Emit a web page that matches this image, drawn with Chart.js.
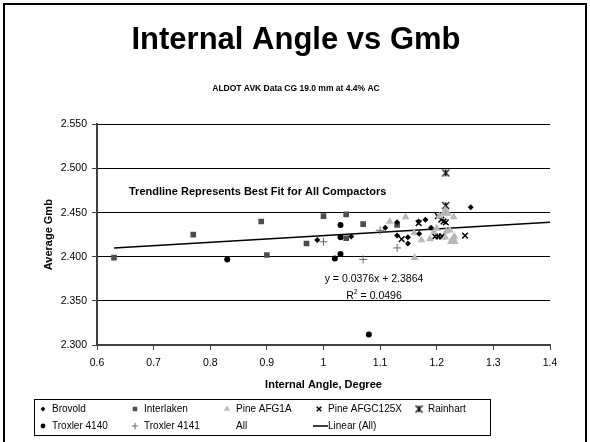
<!DOCTYPE html>
<html>
<head>
<meta charset="utf-8">
<script src="https://cdn.jsdelivr.net/npm/chart.js@4.4.0/dist/chart.umd.min.js"></script>
<style>
  html, body { margin: 0; padding: 0; background: #fff; }
  #wrap { width: 590px; height: 442px; }
</style>
</head>
<body>
<div id="wrap"><canvas id="chart" width="590" height="442"></canvas></div>
<script>
const xTickLabels = ['0.6', '0.7', '0.8', '0.9', '1', '1.1', '1.2', '1.3', '1.4'];
const yTickLabels = ['2.300', '2.350', '2.400', '2.450', '2.500', '2.550'];

const brovoldX = [0.989, 1.049, 1.109, 1.13, 1.13, 1.149, 1.149, 1.168, 1.169, 1.18, 1.19, 1.26];
const brovoldY = [2.419, 2.423, 2.433, 2.439, 2.424, 2.422, 2.415, 2.440, 2.426, 2.442, 2.433, 2.456];

const interlakenX = [0.63, 0.77, 0.89, 0.90, 0.97, 1.00, 1.04, 1.04, 1.07, 1.13];
const interlakenY = [2.399, 2.425, 2.440, 2.402, 2.415, 2.446, 2.448, 2.421, 2.437, 2.436];

const pineAFG1AX = [1.117, 1.145, 1.160, 1.161, 1.173, 1.188, 1.195, 1.200, 1.205, 1.212, 1.215, 1.215, 1.217, 1.220, 1.223, 1.225, 1.229, 1.230, 1.231, 1.232];
const pineAFG1AY = [2.440, 2.445, 2.427, 2.399, 2.419, 2.420, 2.428, 2.432, 2.446, 2.449, 2.453, 2.422, 2.429, 2.449, 2.430, 2.417, 2.421, 2.445, 2.423, 2.417];

const pineAFGC125XX = [1.138, 1.168, 1.197, 1.202, 1.203, 1.208, 1.209, 1.212, 1.216, 1.250];
const pineAFGC125XY = [2.420, 2.438, 2.423, 2.446, 2.423, 2.442, 2.423, 2.440, 2.439, 2.424];

const rainhartX = [1.216, 1.216];
const rainhartY = [2.495, 2.458];

const troxler4140X = [0.83, 1.02, 1.03, 1.03, 1.03, 1.08];
const troxler4140Y = [2.397, 2.398, 2.403, 2.422, 2.436, 2.312];

const troxler4141X = [1.00, 1.07, 1.10, 1.13];
const troxler4141Y = [2.417, 2.397, 2.430, 2.410];

const trendX = [0.63, 1.4];
const trendY = [2.410, 2.439];

const FONT = "'Liberation Sans', Arial, sans-serif";
Chart.defaults.font.family = FONT;
Chart.defaults.color = '#000';

function pts(xs, ys) {
  return xs.map((x, i) => ({ x: x, y: ys[i] }));
}

function scatter(label, xs, ys, style) {
  return Object.assign({
    type: 'scatter',
    label: label,
    data: pts(xs, ys),
    showLine: false,
  }, style);
}

// Excel style star marker: an x with a vertical bar
function starMarker(size) {
  const c = document.createElement('canvas');
  c.width = size;
  c.height = size;
  const g = c.getContext('2d');
  g.strokeStyle = '#000';
  g.lineWidth = 1.2;
  g.beginPath();
  g.moveTo(1, 1); g.lineTo(size - 1, size - 1);
  g.moveTo(size - 1, 1); g.lineTo(1, size - 1);
  g.moveTo(size / 2, 1); g.lineTo(size / 2, size - 1);
  g.stroke();
  return c;
}

const datasets = [
  scatter('Brovold', brovoldX, brovoldY, { pointStyle: 'rectRot', pointRadius: 3, backgroundColor: '#000', borderColor: '#000', borderWidth: 0 }),
  scatter('Interlaken', interlakenX, interlakenY, { pointStyle: 'rect', pointRadius: 4, backgroundColor: '#4d4d4d', borderColor: '#4d4d4d', borderWidth: 0 }),
  scatter('Pine AFG1A', pineAFG1AX, pineAFG1AY, { pointStyle: 'triangle', pointRadius: 4.5, backgroundColor: '#b8b8b8', borderColor: '#b8b8b8', borderWidth: 0 }),
  scatter('Pine AFGC125X', pineAFGC125XX, pineAFGC125XY, { pointStyle: 'crossRot', pointRadius: 4, backgroundColor: '#000', borderColor: '#000', borderWidth: 1.5 }),
  scatter('Rainhart', rainhartX, rainhartY, { pointStyle: starMarker(9), pointRadius: 4, backgroundColor: '#000', borderColor: '#000', borderWidth: 1 }),
  scatter('Troxler 4140', troxler4140X, troxler4140Y, { pointStyle: 'circle', pointRadius: 3, backgroundColor: '#000', borderColor: '#000', borderWidth: 0 }),
  scatter('Troxler 4141', troxler4141X, troxler4141Y, { pointStyle: 'cross', pointRadius: 4, backgroundColor: '#666', borderColor: '#666', borderWidth: 1 }),
  scatter('All', [], [], { pointRadius: 0 }),
  {
    type: 'line',
    label: 'Linear (All)',
    data: pts(trendX, trendY),
    borderColor: '#000',
    borderWidth: 1.5,
    pointRadius: 0,
    fill: false,
  },
];

// legend slots: [dataset index, marker x, text x, row]
const legendSlots = [
  [0, 43, 52, 0], [1, 135, 144, 0], [2, 227, 236, 0], [3, 319, 328, 0], [4, 419, 428, 0],
  [5, 43, 52, 1], [6, 135, 144, 1], [7, null, 236, 1], [8, 'line', 328, 1],
];

const decorations = {
  id: 'decorations',
  afterDraw(chart) {
    const ctx = chart.ctx;
    ctx.save();

    // outer frame
    ctx.strokeStyle = '#000';
    ctx.lineWidth = 2;
    ctx.strokeRect(4, 4, 582, 460);

    // notes on the plot
    ctx.fillStyle = '#000';
    ctx.textBaseline = 'middle';
    ctx.textAlign = 'left';
    ctx.font = 'bold 11px ' + FONT;
    ctx.fillText('Trendline Represents Best Fit for All Compactors', 129, 192);

    ctx.font = '10.5px ' + FONT;
    ctx.textAlign = 'center';
    ctx.fillText('y = 0.0376x + 2.3864', 374, 279);
    const a = 'R', b = ' = 0.0496';
    const wa = ctx.measureText(a).width;
    ctx.font = '7px ' + FONT;
    const ws = ctx.measureText('2').width;
    ctx.font = '10.5px ' + FONT;
    const wb = ctx.measureText(b).width;
    const sx = 374 - (wa + ws + wb) / 2;
    ctx.textAlign = 'left';
    ctx.fillText(a, sx, 296);
    ctx.font = '7px ' + FONT;
    ctx.fillText('2', sx + wa, 292);
    ctx.font = '10.5px ' + FONT;
    ctx.fillText(b, sx + wa + ws, 296);

    // legend box
    ctx.lineWidth = 1;
    ctx.strokeStyle = '#000';
    ctx.strokeRect(34.5, 399.5, 456, 36);
    ctx.font = '10px ' + FONT;
    const rows = [409, 426];
    legendSlots.forEach(([di, mx, tx, row]) => {
      const ds = chart.data.datasets[di];
      const y = rows[row];
      if (mx === 'line') {
        ctx.strokeStyle = '#000';
        ctx.lineWidth = 1.5;
        ctx.beginPath();
        ctx.moveTo(313, y);
        ctx.lineTo(328, y);
        ctx.stroke();
      } else if (mx !== null) {
        ctx.fillStyle = ds.backgroundColor;
        ctx.strokeStyle = ds.borderColor;
        ctx.lineWidth = ds.borderWidth;
        Chart.helpers.drawPoint(ctx, {
          pointStyle: ds.pointStyle,
          radius: ds.pointRadius * 0.8,
          rotation: 0,
          borderWidth: ds.borderWidth,
        }, mx, y);
      }
      ctx.fillStyle = '#000';
      ctx.textAlign = 'left';
      ctx.textBaseline = 'middle';
      ctx.fillText(ds.label, tx, y);
    });

    ctx.restore();
  },
};

new Chart(document.getElementById('chart'), {
  type: 'scatter',
  data: { datasets: datasets },
  options: {
    responsive: false,
    animation: false,
    layout: { padding: { left: 42, right: 40, top: 0, bottom: 50 } },
    plugins: {
      legend: { display: false },
      tooltip: { enabled: false },
      title: {
        display: true,
        text: 'Internal Angle vs Gmb',
        font: { size: 31, weight: 'bold', family: FONT },
        color: '#000',
        padding: { top: 22, bottom: 24 },
      },
      subtitle: {
        display: true,
        text: 'ALDOT AVK Data CG 19.0 mm at 4.4% AC',
        font: { size: 8.5, weight: 'bold', family: FONT },
        color: '#000',
        padding: { top: 0, bottom: 31 },
      },
    },
    scales: {
      x: {
        type: 'linear',
        min: 0.6,
        max: 1.4,
        afterFit(scale) { scale.height = 47; },
        afterBuildTicks(scale) {
          scale.ticks = xTickLabels.map((t) => ({ value: parseFloat(t) }));
        },
        ticks: {
          callback: (v, i) => xTickLabels[i],
          font: { size: 10.5 },
          color: '#000',
          padding: 7,
          maxRotation: 0,
        },
        grid: { drawOnChartArea: false, drawTicks: true, tickLength: 5, tickColor: '#404040', lineWidth: 1 },
        border: { display: true, color: '#404040', width: 2 },
        title: {
          display: true,
          text: 'Internal Angle, Degree',
          font: { size: 11, weight: 'bold' },
          color: '#000',
          padding: { top: 0, bottom: 0 },
        },
      },
      y: {
        type: 'linear',
        min: 2.3,
        max: 2.55,
        afterFit(scale) { scale.width = 55; },
        afterBuildTicks(scale) {
          scale.ticks = yTickLabels.map((t) => ({ value: parseFloat(t) }));
        },
        ticks: {
          callback: (v, i) => yTickLabels[i],
          font: { size: 10.5 },
          color: '#000',
          padding: 5,
        },
        grid: { color: '#000', lineWidth: 1, tickLength: 5, tickColor: '#404040' },
        border: { display: true, color: '#404040', width: 2 },
        title: {
          display: true,
          text: 'Average Gmb',
          font: { size: 11, weight: 'bold' },
          color: '#000',
          padding: { top: 0, bottom: 0 },
        },
      },
    },
  },
  plugins: [decorations],
});
</script>
</body>
</html>
